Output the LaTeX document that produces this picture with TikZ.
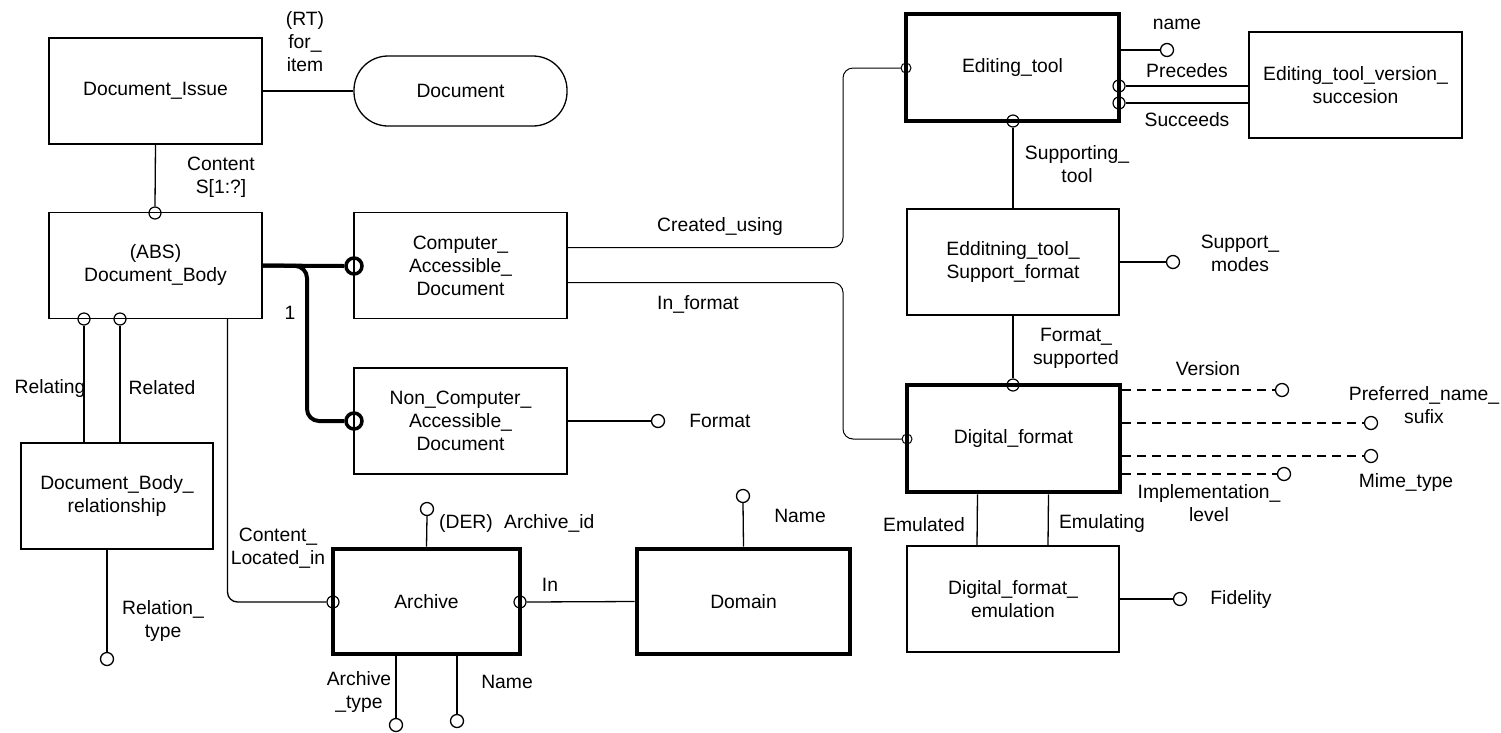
\documentclass[tikz,border=0pt]{standalone}
\usepackage{fontspec}
\setmainfont{Liberation Sans}
\begin{document}
\begin{tikzpicture}[x=1pt,y=-1pt,
  every node/.style={font=\fontsize{19.3}{23}\selectfont},
  ent/.style={draw, line width=1.3pt, minimum width=213pt, minimum height=106pt, align=center, inner sep=0pt},
  thk/.style={ent, line width=4.8pt},
  lbl/.style={align=center, inner sep=0pt},
  attr/.style={circle, draw, line width=1.3pt, minimum size=13pt, inner sep=0pt},
  ec/.style={circle, draw, line width=1.2pt, minimum size=12pt, inner sep=0pt},
  sc/.style={circle, draw, line width=1pt, minimum size=10pt, inner sep=0pt},
  bc/.style={circle, draw, line width=3.5pt, minimum size=16pt, inner sep=0pt},
  conn/.style={line width=1.3pt},
  fine/.style={line width=1pt},
  heavy/.style={line width=4pt},
  dsh/.style={line width=1.3pt, dash pattern=on 9pt off 6pt}]
\useasboundingbox (0,0) rectangle (1501,732);

% entity boxes
\node[ent] (dissue) at (155.5,91) {Document\_Issue};
\node[draw, line width=1.3pt, rounded corners=34pt, minimum width=213pt, minimum height=70pt, inner sep=0pt] (doc) at (460.5,91) {Document};
\node[ent] (dbody) at (155.5,265.5) {(ABS)\\Document\_Body};
\node[ent, minimum width=192pt] (dbr) at (117,496) {Document\_Body\_\\relationship};
\node[ent] (cad) at (460.5,265.5) {Computer\_\\Accessible\_\\Document};
\node[ent] (ncad) at (460.5,421) {Non\_Computer\_\\Accessible\_\\Document};
\node[thk, minimum width=187pt, minimum height=105pt] (arch) at (426.5,601.5) {Archive};
\node[thk, minimum height=105pt] (dom) at (743.5,601.5) {Domain};
\node[thk, minimum height=107pt] (etool) at (1012.5,67.5) {Editing\_tool};
\node[ent] (etv) at (1355.5,85) {Editing\_tool\_version\_\\succesion};
\node[ent, minimum width=212pt] (esf) at (1013,262) {Edditning\_tool\_\\Support\_format};
\node[thk, minimum height=107pt] (dfmt) at (1013.5,438.5) {Digital\_format};
\node[ent, minimum width=212pt] (dfe) at (1013,599) {Digital\_format\_\\emulation};

% circles on box edges
\node[ec] (e1) at (155,213) {};
\node[ec] (e2) at (84,319) {};
\node[ec] (e3) at (120,319) {};
\node[bc] (cc1) at (354,266) {};
\node[bc] (cc2) at (354,421) {};
\node[sc] (ce1) at (906,68) {};
\node[sc] (ci1) at (907,439) {};
\node[ec] (ca1) at (333,602) {};
\node[ec] (ca2) at (520,602) {};
\node[ec] (ep1) at (1119,86) {};
\node[ec] (ep2) at (1119,103) {};
\node[ec] (e4) at (1013,121) {};
\node[ec] (e5) at (1013,385) {};

% attribute circles
\node[attr] (aName) at (1167,50) {};
\node[attr] (aSup) at (1173,262) {};
\node[attr] (aFormat) at (658,421) {};
\node[attr] (aFid) at (1180,599) {};
\node[attr] (aRel) at (107,659) {};
\node[attr] (aAid) at (427,509) {};
\node[attr] (aAt) at (396,725) {};
\node[attr] (aAn) at (457,721) {};
\node[attr] (aDn) at (743,496) {};
\node[attr] (aVer) at (1282,390) {};
\node[attr] (aPref) at (1371,423) {};
\node[attr] (aMime) at (1371,456) {};
\node[attr] (aImpl) at (1284,474) {};

\coordinate (split) at (307,266);
\coordinate (vx) at (843,0);

% connectors
\draw[conn] (dissue.east) -- (doc.west);
\draw[conn] (dissue.south) -- (e1.north);
\draw[conn] (e2.south) -- (e2 |- dbr.north);
\draw[conn] (e3.south) -- (e3 |- dbr.north);
\draw[conn, rounded corners=10pt] ([xshift=72pt]dbody.south) |- (ca1.west);
\draw[conn] (dbr.south -| aRel) -- (aRel.north);
\draw[heavy] (dbody.east) -- (cc1.west);
\draw[heavy, rounded corners=12pt] (dbody.east) -- (split) |- (cc2.west);
\draw[conn] (ncad.east) -- (aFormat.west);
\draw[fine, rounded corners=10pt] ([yshift=18pt]cad.east) -| (vx |- ce1) -- (ce1.west);
\draw[fine, rounded corners=10pt] ([yshift=-17pt]cad.east) -| (vx |- ci1) -- (ci1.west);
\draw[conn] (aName -| etool.east) -- (aName.west);
\draw[conn] (ep1.east) -- (ep1 -| etv.west);
\draw[conn] (ep2.east) -- (ep2 -| etv.west);
\draw[conn] (e4.south) -- (e4 |- esf.north);
\draw[conn] (esf.east) -- (aSup.west);
\draw[conn] (esf.south) -- (e5.north);
\draw[dsh] (aVer -| dfmt.east) -- (aVer.west);
\draw[dsh] (aPref -| dfmt.east) -- (aPref.west);
\draw[dsh] (aMime -| dfmt.east) -- (aMime.west);
\draw[dsh] (aImpl -| dfmt.east) -- (aImpl.west);
\draw[conn] ([xshift=-36pt]dfmt.south) -- ([xshift=-36pt]dfe.north);
\draw[conn] ([xshift=35pt]dfmt.south) -- ([xshift=35pt]dfe.north);
\draw[conn] (dfe.east) -- (aFid.west);
\draw[conn] (arch.north) -- (aAid.south);
\draw[conn] (ca2.east) -- (dom.west);
\draw[conn] (aAt |- arch.south) -- (aAt.north);
\draw[conn] (aAn |- arch.south) -- (aAn.north);
\draw[conn] (dom.north) -- (aDn.south);

% labels
\node[lbl] (l1) at (305,42) {(RT)\\for\_\\item};
\node[lbl] (l2) at (221,177) {Content\\S[1:?]};
\node[lbl] (l3) at (50,388) {Relating};
\node[lbl] (l4) at (162,388) {Related};
\node[lbl] (l5) at (290,313) {1};
\node[lbl] (l6) at (163,621) {Relation\_\\type};
\node[lbl] (l7) at (278,548) {Content\_\\Located\_in};
\node[lbl, anchor=east] (l8) at (493,523) {(DER)};
\node[lbl, anchor=west] (l9) at (504,523) {Archive\_id};
\node[lbl] (l10) at (550,585) {In};
\node[lbl] (l11) at (359,692) {Archive\\\_type};
\node[lbl] (l12) at (507,682) {Name};
\node[lbl] (l13) at (800,516) {Name};
\node[lbl] (l14) at (720,421) {Format};
\node[lbl] (l15) at (720,227) {Created\_using};
\node[lbl] (l16) at (698,304) {In\_format};
\node[lbl] (l17) at (1177,24) {name};
\node[lbl] (l18) at (1187,71) {Precedes};
\node[lbl] (l19) at (1187,120) {Succeeds};
\node[lbl] (l20) at (1077,164) {Supporting\_\\tool};
\node[lbl] (l21) at (1240,253) {Support\_\\modes};
\node[lbl] (l22) at (1076,348) {Format\_\\supported};
\node[lbl] (l23) at (1208,369) {Version};
\node[lbl] (l24) at (1424,405) {Preferred\_name\_\\sufix};
\node[lbl] (l25) at (1406,482) {Mime\_type};
\node[lbl] (l26) at (1209,503) {Implementation\_\\level};
\node[lbl] (l27) at (924,525) {Emulated};
\node[lbl] (l28) at (1102,523) {Emulating};
\node[lbl] (l29) at (1241,599) {Fidelity};
\end{tikzpicture}
\end{document}
